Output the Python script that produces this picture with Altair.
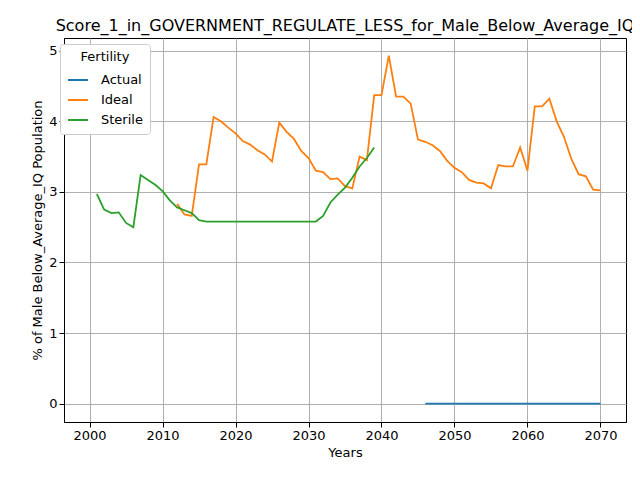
import altair as alt
import pandas as pd

sterile_years = list(range(2001, 2040))
sterile_vals = [2.97, 2.75, 2.70, 2.71, 2.56, 2.50, 3.24, 3.17, 3.10, 3.01, 2.88, 2.78, 2.74, 2.70, 2.60] + [2.58]*16 + [2.66, 2.85, 2.96, 3.06, 3.20, 3.36, 3.48, 3.63]
ideal_years = list(range(2012, 2071))
ideal_vals = [2.83, 2.68, 2.66, 3.39, 3.39, 4.06, 4.00, 3.91, 3.83, 3.72, 3.67, 3.59, 3.53, 3.43,
              3.98, 3.85, 3.75, 3.58, 3.48, 3.30, 3.28, 3.18, 3.19, 3.08, 3.05, 3.50, 3.45, 4.37,
              4.37, 4.93, 4.35, 4.35, 4.25, 3.74, 3.71, 3.66, 3.58, 3.44, 3.34, 3.28, 3.17, 3.13,
              3.12, 3.05, 3.38, 3.36, 3.36, 3.63, 3.30, 4.21, 4.21, 4.32, 4.00, 3.78, 3.47, 3.25,
              3.22, 3.03, 3.02]
actual_years = list(range(2046, 2071))
actual_vals = [0.0]*len(actual_years)

rows = ([{"Years": y, "v": v, "Fertility": "Actual"} for y, v in zip(actual_years, actual_vals)] +
        [{"Years": y, "v": v, "Fertility": "Ideal"} for y, v in zip(ideal_years, ideal_vals)] +
        [{"Years": y, "v": v, "Fertility": "Sterile"} for y, v in zip(sterile_years, sterile_vals)])
df = pd.DataFrame(rows)

chart = alt.Chart(df).mark_line(strokeWidth=1.8, clip=True).encode(
    x=alt.X("Years:Q", scale=alt.Scale(domain=[1996.5, 2073.5], nice=False, zero=False),
            axis=alt.Axis(values=list(range(2000, 2071, 10)), format="d", title="Years")),
    y=alt.Y("v:Q", scale=alt.Scale(domain=[-0.26, 5.18], nice=False),
            axis=alt.Axis(values=[0, 1, 2, 3, 4, 5], title="% of Male Below_Average_IQ Population")),
    color=alt.Color("Fertility:N",
                    scale=alt.Scale(domain=["Actual", "Ideal", "Sterile"], range=["#1f77b4", "#ff7f0e", "#2ca02c"]),
                    legend=alt.Legend(orient="none", legendX=-4, legendY=6, fillColor="white",
                                      strokeColor="#cccccc", padding=7, cornerRadius=3,
                                      titleFontWeight="normal", titleFontSize=13, labelFontSize=13,
                                      symbolType="stroke", symbolSize=400, symbolStrokeWidth=2,
                                      titleAlign="center", titleAnchor="middle", labelOffset=12)),
).properties(
    width=562, height=384,
    title=alt.Title("Score_1_in_GOVERNMENT_REGULATE_LESS_for_Male_Below_Average_IQ", fontSize=16, fontWeight="normal"),
    autosize=alt.AutoSizeParams(type="none"),
    padding={"left": 56, "top": 30, "right": 6, "bottom": 50},
).configure_axis(
    grid=True, gridColor="#b0b0b0", domainColor="black", tickColor="black",
    labelFontSize=13, titleFontSize=13, labelColor="black", titleColor="black",
    titleFontWeight="normal", labelFont="DejaVu Sans", titleFont="DejaVu Sans"
).configure_legend(labelFont="DejaVu Sans", titleFont="DejaVu Sans"
).configure_title(font="DejaVu Sans", color="black"
).configure_view(stroke="black")

chart.save("out.html", embed_options={"renderer": "svg", "actions": False})
